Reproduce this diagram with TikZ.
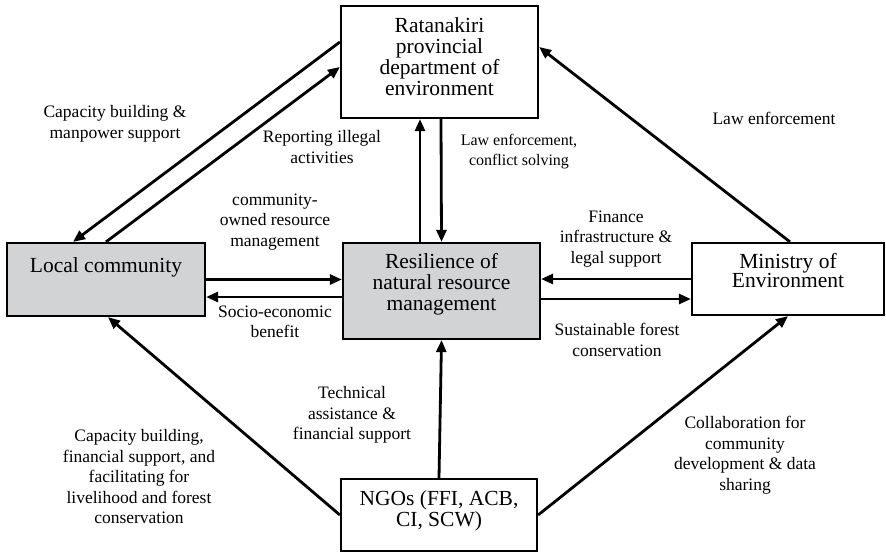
\documentclass[tikz,border=0pt]{standalone}
\usepackage{fontspec}
\setmainfont{Liberation Serif}
\usetikzlibrary{arrows.meta}
\definecolor{boxgray}{RGB}{209,211,212}
\newcommand\lowpad[1]{\rule[-#1pt]{0pt}{#1pt}}

\begin{document}
\begin{tikzpicture}[x=1pt, y=-1pt,
  box/.style={draw, line width=2.2pt, inner sep=2pt, align=center,
    font=\fontsize{21.5}{21}\selectfont},
  shaded/.style={box, fill=boxgray},
  conn/.style={line width=2.8pt, -{Triangle[length=12pt,width=10pt]}},
  lbl/.style={align=center, inner sep=1pt, font=\fontsize{17.5}{20.5}\selectfont}]
\useasboundingbox (0,0) rectangle (886,552);

\node[box, minimum width=197, minimum height=112] (dept) at (439.5,62)
  {Ratanakiri\\provincial\\department of\\environment\lowpad{11.7}};
\node[shaded, minimum width=198, minimum height=73] (local) at (106,279.5)
  {Local community\lowpad{29.7}};
\node[shaded, minimum width=197, minimum height=96] (center) at (441.5,291)
  {Resilience of\\natural resource\\management\lowpad{18.7}};
\node[box, minimum width=192, minimum height=72,
  font=\fontsize{21.5}{19.5}\selectfont] (ministry) at (788,279)
  {Ministry of\\Environment\lowpad{17.2}};
\node[box, minimum width=196, minimum height=72] (ngo) at (439,515)
  {NGOs (FFI, ACB,\\CI, SCW)\lowpad{13.8}};

\draw[conn] ([yshift=20pt]dept.west) -- ([xshift=-33pt]local.north);
\draw[conn] (local.north) -- ([yshift=-5pt]dept.west);
\draw[conn] ([xshift=1.5pt]dept.south) -- (center.north);
\draw[conn] ([xshift=-21.5pt]center.north) -- ([xshift=-19.5pt]dept.south);
\draw[conn] ([xshift=2pt]ministry.north) -- ([yshift=15pt]dept.east);
\draw[conn] (local.east) -- (local.east -| center.west);
\draw[conn] ([yshift=-17.5pt]local.east -| center.west) -- ([yshift=-17.5pt]local.east);
\draw[conn] (ministry.west) -- (ministry.west -| center.east);
\draw[conn] ([yshift=-20pt]ministry.west -| center.east) -- ([yshift=-20pt]ministry.west);
\draw[conn] (ngo.north) -- (center.south);
\draw[conn] (ngo.west) -- ([xshift=2pt]local.south);
\draw[conn] (ngo.east) -- (ministry.south);

\node[lbl] (capman) at (115,124) {Capacity building \&\\manpower support};
\node[lbl] (report) at (322,147) {Reporting illegal\\activities};
\node[lbl] (owned) at (275,222) {community-\\owned resource\\management};
\node[lbl, font=\fontsize{16}{20}\selectfont] (conflict) at (519,152)
  {Law enforcement,\\conflict solving};
\node[lbl] (law) at (774,118) {Law enforcement};
\node[lbl] (finance) at (616,239) {Finance\\infrastructure \&\\legal support};
\node[lbl] (socio) at (275,322) {Socio-economic\\benefit};
\node[lbl] (sustain) at (617,340) {Sustainable forest\\conservation};
\node[lbl] (tech) at (352,415) {Technical\\assistance \&\\financial support};
\node[lbl] (capfin) at (139,477) {Capacity building,\\financial support, and\\facilitating for\\livelihood and forest\\conservation};
\node[lbl] (collab) at (745,455) {Collaboration for\\community\\development \& data\\sharing};
\end{tikzpicture}
\end{document}
